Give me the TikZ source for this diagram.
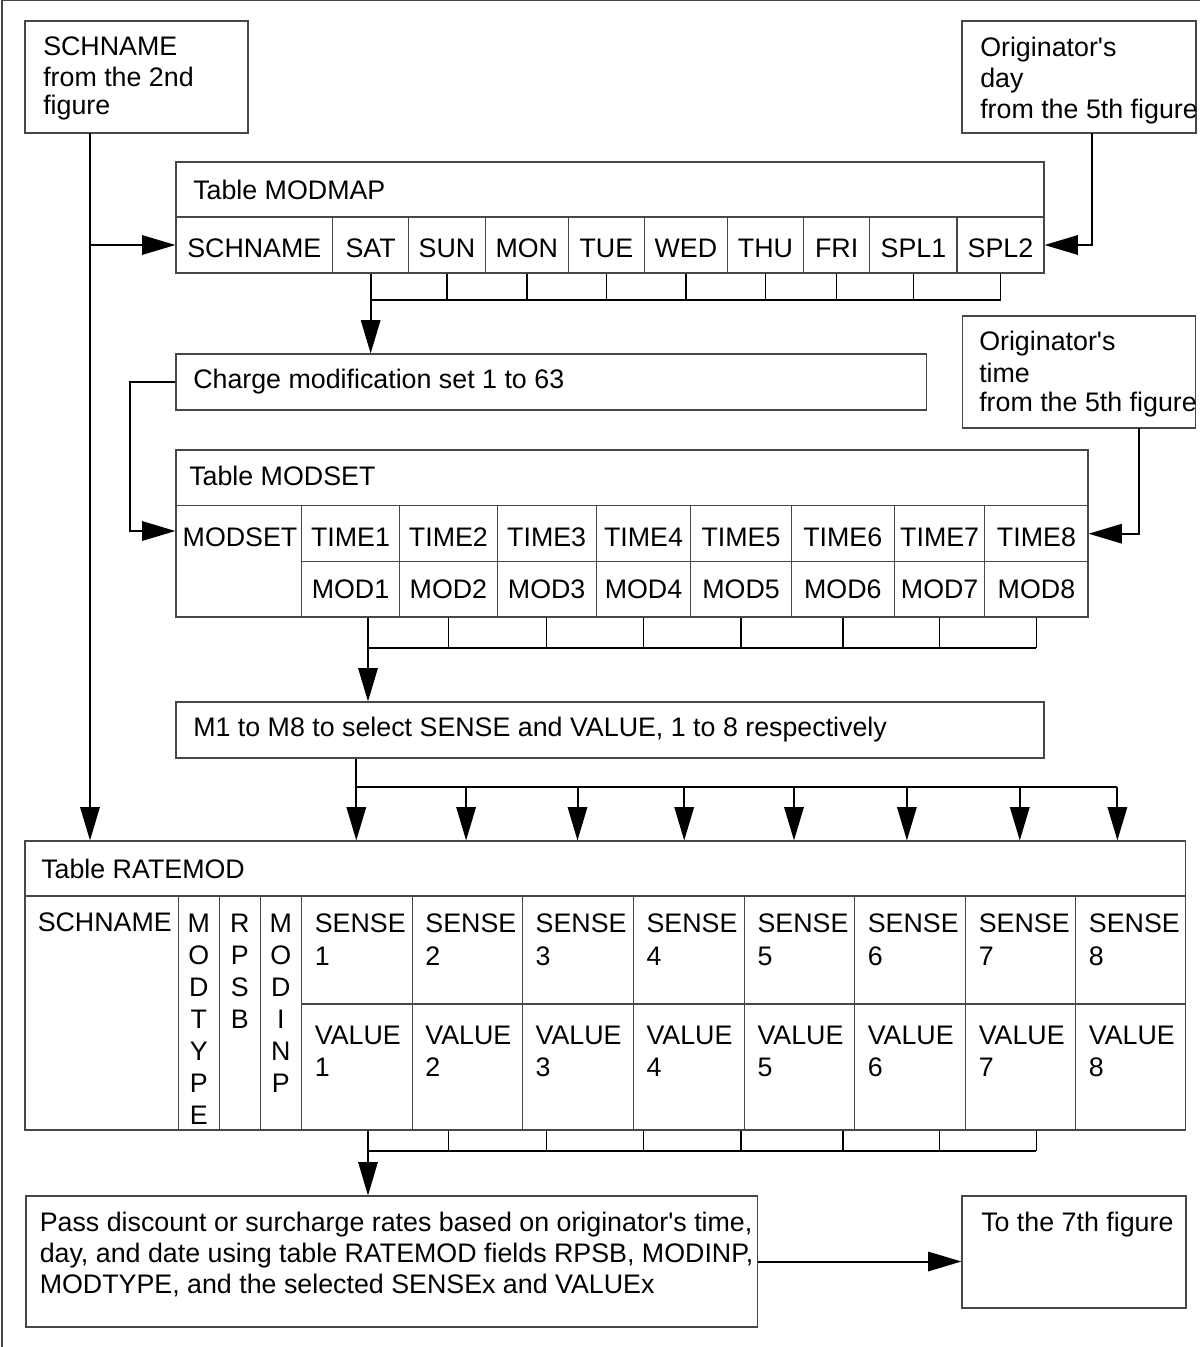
\documentclass[tikz,border=0pt]{standalone}
\usepackage{fontspec}
\setmainfont{Liberation Sans}[Ligatures=TeXOff]
\usetikzlibrary{arrows.meta,fit,calc}
\begin{document}
\begin{tikzpicture}[x=0.75pt,y=-0.75pt,
  box/.style={draw=black!72,line width=0.8pt,inner sep=0pt},
  txt/.style={inner sep=0pt,anchor=base west,font=\fontsize{20.1pt}{24pt}\selectfont},
  ctxt/.style={txt,anchor=base},
  conn/.style={line width=1.5pt,black},
  tickl/.style={line width=1.1pt,black},
  arr/.style={conn,-{Triangle[length=25pt,width=14.5pt]}},
  frameline/.style={draw=black!72,line width=0.9pt}]
\newcommand\cellbox[5]{\node[box,fit={(#2,#3)(#4,#5)}] (#1) {};}
\useasboundingbox (0,0) rectangle (1200,1347);
% outer frame (cropped)
\draw[frameline] (2,1347) -- (2,0.7) -- (1200,0.7);

% source boxes
\cellbox{sch}{25}{21}{248}{133}
\node[txt] (sch1) at (43,55) {SCHNAME};
\node[txt] (sch2) at (43,86) {from the 2nd};
\node[txt] (sch3) at (43,114) {figure};

\cellbox{day}{962}{21}{1196}{133}
\node[txt] (day1) at (980,56) {Originator's};
\node[txt] (day2) at (980,87.5) {day};
\node[txt] (day3) at (980,118) {from the 5th figure};

\cellbox{tim}{962.5}{316}{1195.5}{428}
\node[txt] (tim1) at (979,350) {Originator's};
\node[txt] (tim2) at (979,382) {time};
\node[txt] (tim3) at (979,411.7) {from the 5th figure};

% Table MODMAP
\cellbox{mm}{176}{162}{1044}{273}
\cellbox{mmt}{176}{162}{1044}{217}
\node[txt] (mmtt) at (193,199) {Table MODMAP};
\foreach \a/\b/\n/\l in {176/332.6/1/SCHNAME,332.6/408.7/2/SAT,408.7/485.3/3/SUN,485.3/568.3/4/MON,568.3/644.4/5/TUE,644.4/727.4/6/WED,727.4/803.6/7/THU,803.6/869.8/8/FRI,869.8/957/9/SPL1,957/1044/10/SPL2}{
  \cellbox{mm\n}{\a}{217}{\b}{273}
  \node[ctxt] (mmx\n) at ({(\a+\b)/2},257.7) {\l};
}

% Charge modification set
\cellbox{chg}{176}{354}{926.6}{410}
\node[txt] (chgt) at (193,388.3) {Charge modification set 1 to 63};

% Table MODSET
\cellbox{ms}{176}{450}{1088}{617}
\cellbox{mst}{176}{450}{1088}{505.7}
\node[txt] (mstt) at (189,485.7) {Table MODSET};
\cellbox{ms0}{176}{505.7}{301.4}{617}
\node[ctxt] (ms0t) at (240,546.7) {MODSET};
\foreach \a/\b/\n in {301.4/399.6/1,399.6/497.2/2,497.2/596.1/3,596.1/690.9/4,690.9/791.2/5,791.2/894.4/6,894.4/984.9/7,984.9/1088/8}{
  \cellbox{ts\n}{\a}{505.7}{\b}{561.7}
  \cellbox{md\n}{\a}{561.7}{\b}{617}
  \node[ctxt] (tst\n) at ({(\a+\b)/2},546.7) {TIME\n};
  \node[ctxt] (mdt\n) at ({(\a+\b)/2},598.3) {MOD\n};
}

% selection box
\cellbox{sel}{176}{702}{1044}{758}
\node[txt] (selt) at (193,736.7) {M1 to M8 to select SENSE and VALUE, 1 to 8 respectively};

% Table RATEMOD
\cellbox{rm}{25}{841}{1185.5}{1130}
\cellbox{rmt}{25}{841}{1185.5}{896}
\node[txt] (rmtt) at (41,878.3) {Table RATEMOD};
\cellbox{rsch}{25}{896}{178.3}{1130}
\node[txt] (rscht) at (37.5,931.7) {SCHNAME};
\cellbox{rtyp}{178.3}{896}{219.3}{1130}
\cellbox{rpsb}{219.3}{896}{260.2}{1130}
\cellbox{rinp}{260.2}{896}{301.6}{1130}
\foreach \c [count=\k from 0] in {M,O,D,T,Y,P,E}
  \node[ctxt] (typ\k) at (198.8,{932+32*\k}) {\c};
\foreach \c [count=\k from 0] in {R,P,S,B}
  \node[ctxt] (psb\k) at (239.8,{932+32*\k}) {\c};
\foreach \c [count=\k from 0] in {M,O,D,I,N,P}
  \node[ctxt] (inp\k) at (280.9,{932+32*\k}) {\c};
\foreach \a/\b/\n in {301.6/412.2/1,412.2/522.4/2,522.4/633.3/3,633.3/744.3/4,744.3/854.5/5,854.5/965.5/6,965.5/1075.7/7,1075.7/1185.5/8}{
  \cellbox{se\n}{\a}{896}{\b}{1004}
  \cellbox{va\n}{\a}{1004}{\b}{1130}
  \node[txt] (set\n) at ({\a+13},932) {SENSE};
  \node[txt] (sen\n) at ({\a+13},965) {\n};
  \node[txt] (vat\n) at ({\a+13},1044.3) {VALUE};
  \node[txt] (van\n) at ({\a+13},1076.7) {\n};
}

% output boxes
\cellbox{pass}{26}{1196}{757.5}{1327}
\node[txt] (pass1) at (39.5,1231.7) {Pass discount or surcharge rates based on originator's time,};
\node[txt] (pass2) at (39.5,1262.7) {day, and date using table RATEMOD fields RPSB, MODINP,};
\node[txt] (pass3) at (39.5,1293.5) {MODTYPE, and the selected SENSEx and VALUEx};
\cellbox{to7}{962}{1196}{1186}{1308}
\node[txt] (to7t) at (981,1231) {To the 7th figure};

% ---------- connectors ----------
\coordinate (schout) at (90,133);
\draw[arr] (schout) |- (mm1.west);
\draw[arr] (schout) -- (schout |- rm.north);

\coordinate (dayout) at (1092,133);
\draw[arr] (dayout) |- (mm10.east);

% MODMAP bracket
\coordinate (mmbus) at (370.6,300);
\draw[conn] (mmbus) -- (mmbus -| mm10.south);
\foreach \i in {3,...,10} \draw[tickl] (mm\i.south) -- (mm\i.south |- mmbus);
\draw[arr] (mm2.south) -- (mm2.south |- chg.north);

% charge -> MODSET
\coordinate (lc) at (129.5,531);
\draw[arr] (chg.west) -| (lc) -- (lc -| ms.west);

\coordinate (timout) at (1139,428);
\draw[arr] (timout) |- (ts8.east);

% MODSET bracket
\coordinate (msbus) at (368,648.3);
\draw[conn] (msbus) -- (msbus -| md8.south);
\foreach \i in {2,...,8} \draw[tickl] (md\i.south) -- (md\i.south |- msbus);
\draw[arr] (msbus |- md1.south) -- (msbus |- sel.north);

% selection bus
\foreach \x [count=\k] in {356.3,466.1,577.5,684.2,794,906.9,1019.8,1117.4}
  \coordinate (b\k) at (\x,786.7);
\draw[conn] (b1 |- sel.south) -- (b1) -- (b8);
\foreach \k in {1,...,8} \draw[arr] (b\k) -- (b\k |- rm.north);

% RATEMOD bracket
\coordinate (rmbus) at (368,1150.7);
\draw[conn] (rmbus) -- (rmbus -| md8.south);
\foreach \i in {2,...,8} \draw[tickl] (md\i.south |- rm.south) -- (md\i.south |- rmbus);
\draw[arr] (rmbus |- rm.south) -- (rmbus |- pass.north);

\draw[arr] (pass.east) -- (pass.east -| to7.west);
\end{tikzpicture}
\end{document}
